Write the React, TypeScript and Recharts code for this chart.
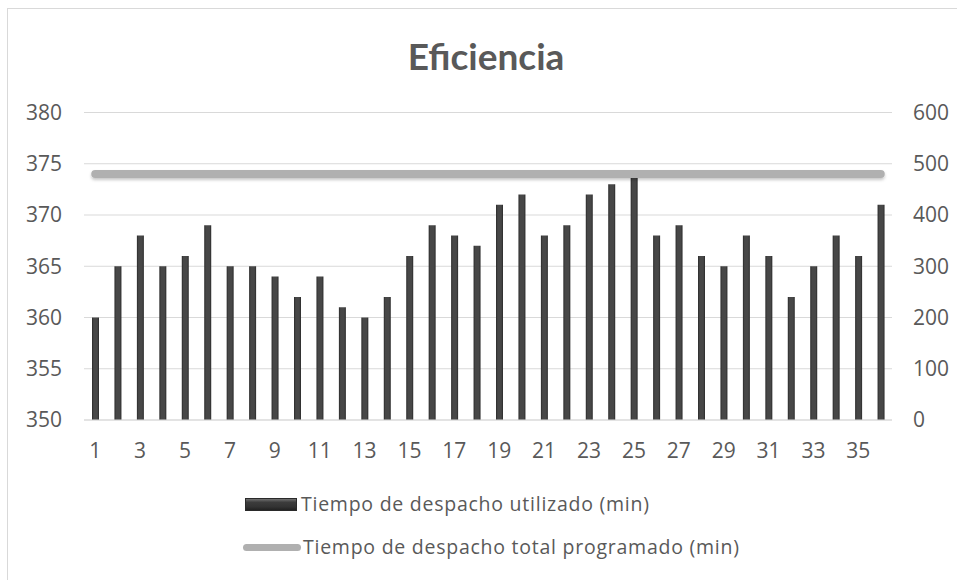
import React from "react";
import { ComposedChart, Bar, Line, XAxis, YAxis, CartesianGrid } from "recharts";

const days = [1, 2, 3, 4, 5, 6, 7, 8, 9, 10, 11, 12, 13, 14, 15, 16, 17, 18, 19, 20, 21, 22, 23, 24, 25, 26, 27, 28, 29, 30, 31, 32, 33, 34, 35, 36];
const usedMinutes = [360, 365, 368, 365, 366, 369, 365, 365, 364, 362, 364, 361, 360, 362, 366, 369, 368, 367, 371, 372, 368, 369, 372, 373, 374, 368, 369, 366, 365, 368, 366, 362, 365, 368, 366, 371];
const scheduledMinutes = [480, 480, 480, 480, 480, 480, 480, 480, 480, 480, 480, 480, 480, 480, 480, 480, 480, 480, 480, 480, 480, 480, 480, 480, 480, 480, 480, 480, 480, 480, 480, 480, 480, 480, 480, 480];
const leftTicks = [350, 355, 360, 365, 370, 375, 380];
const rightTicks = [0, 100, 200, 300, 400, 500, 600];
const seriesNames = ["Tiempo de despacho utilizado (min)", "Tiempo de despacho total programado (min)"];
const title = "Eficiencia";

const data = days.map((d, i) => ({ day: d, used: usedMinutes[i], total: scheduledMinutes[i] }));

const FONT = "'Open Sans', 'Liberation Sans', sans-serif";
const TITLE_FONT = "Lato, 'Open Sans', sans-serif";
const TEXT = "#595959";

export default function App() {
  return (
    <div style={{ position: "relative", width: 957, height: 580, overflow: "hidden", background: "#fff", fontFamily: FONT }}>
      <style>{"body{margin:0}"}</style>
      <div style={{ position: "absolute", left: 7, top: 8, width: 970, height: 600, border: "1px solid #d9d9d9", boxSizing: "border-box" }} />
      <div style={{ position: "absolute", left: 0, width: 972, top: 33, textAlign: "center", fontFamily: TITLE_FONT, fontSize: 37, fontWeight: 700, color: TEXT, lineHeight: "46px" }}>{title}</div>
      <div style={{ position: "absolute", left: 0, top: 0 }}>
        <ComposedChart width={957} height={580} data={data} margin={{ top: 112.5, right: 21, bottom: 130, left: 0 }}>
          <defs>
            <linearGradient id="barGrad" x1="0" y1="0" x2="1" y2="0">
              <stop offset="0%" stopColor="#2a2a2a" />
              <stop offset="25%" stopColor="#474747" />
              <stop offset="75%" stopColor="#474747" />
              <stop offset="100%" stopColor="#2a2a2a" />
            </linearGradient>
            <filter id="lineShadow" filterUnits="userSpaceOnUse" x="0" y="0" width="957" height="580">
              <feDropShadow dx="0" dy="2" stdDeviation="1.8" floodColor="#000" floodOpacity="0.22" />
            </filter>
          </defs>
          <CartesianGrid yAxisId="left" vertical={false} stroke="#d9d9d9" strokeWidth={1.2} />
          <XAxis
            dataKey="day"
            interval={1}
            tickLine={false}
            axisLine={{ stroke: "#d9d9d9", strokeWidth: 1.2 }}
            tickSize={0}
            tickMargin={23}
            height={30}
            tick={{ fill: TEXT, fontSize: 21, fontFamily: FONT }}
          />
          <YAxis
            yAxisId="left"
            domain={[350, 380]}
            ticks={leftTicks}
            axisLine={false}
            tickLine={false}
            tickSize={0}
            tickMargin={22}
            width={84}
            tick={{ fill: TEXT, fontSize: 21, fontFamily: FONT }}
          />
          <YAxis
            yAxisId="right"
            orientation="right"
            domain={[0, 600]}
            ticks={rightTicks}
            axisLine={false}
            tickLine={false}
            tickSize={0}
            tickMargin={21}
            width={44}
            tick={{ fill: TEXT, fontSize: 21, fontFamily: FONT, textAnchor: "start" }}
          />
          <Bar yAxisId="left" dataKey="used" name={seriesNames[0]} barSize={7} fill="url(#barGrad)" isAnimationActive={false} />
          <Line
            yAxisId="right"
            dataKey="total"
            name={seriesNames[1]}
            stroke="#b0b0b0"
            strokeWidth={8}
            strokeLinecap="round"
            dot={false}
            activeDot={false}
            filter="url(#lineShadow)"
            isAnimationActive={false}
          />
        </ComposedChart>
      </div>
      <div style={{ position: "absolute", left: 245, top: 490, fontSize: 19.5, letterSpacing: 0.75, color: TEXT, lineHeight: "28px" }}>
        <div style={{ display: "flex", alignItems: "center", height: 28 }}>
          <div style={{ width: 52, height: 13, background: "linear-gradient(#707070, #3c3c3c 30%, #333 70%, #222)", marginRight: 4, boxSizing: "border-box", border: "1px solid #2a2a2a" }} />
          <span>{seriesNames[0]}</span>
        </div>
        <div style={{ display: "flex", alignItems: "center", height: 28, marginTop: 15 }}>
          <div style={{ width: 58, height: 7, background: "#b0b0b0", borderRadius: 4, marginLeft: -2, marginRight: 2 }} />
          <span>{seriesNames[1]}</span>
        </div>
      </div>
    </div>
  );
}
